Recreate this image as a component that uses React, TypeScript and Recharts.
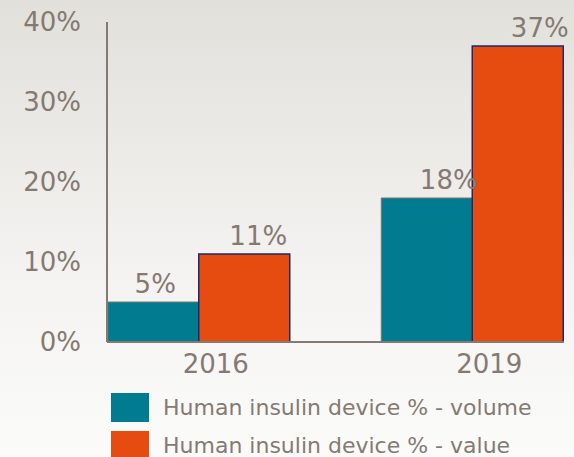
import React from "react";
import { BarChart, Bar, XAxis, YAxis, LabelList, Legend } from "recharts";

const categories = ["2016", "2019"];
const volumeValues = [5, 18];
const valueValues = [11, 37];
const yTicks = [0, 10, 20, 30, 40];
const seriesNames = ["Human insulin device % - volume", "Human insulin device % - value"];

const volumeLabelDx = [2, 22];
const valueLabelDx = [14, 22];

const data = categories.map((c, i) => ({
  year: c,
  volume: volumeValues[i],
  value: valueValues[i],
}));

const TEXT = "#857a72";
const FONT = "'DejaVu Sans', Verdana, sans-serif";
const TEAL = "#007b8f";
const ORANGE = "#e64b10";

const makeLabel = (dxs: number[]) => (props: any) => {
  const { x, y, width, value, index } = props;
  return (
    <text
      x={x + width / 2 + (dxs[index] || 0)}
      y={y - 9}
      textAnchor="middle"
      fill={TEXT}
      fontSize={26}
      fontFamily={FONT}
    >
      {value}%
    </text>
  );
};

const LegendContent = () => (
  <div style={{ fontFamily: FONT, fontSize: 22, color: TEXT }}>
    {[TEAL, ORANGE].map((c, i) => (
      <div key={i} style={{ display: "flex", alignItems: "center", height: 38 }}>
        <div style={{ width: 38, height: 29, background: c, flexShrink: 0 }} />
        <span style={{ marginLeft: 14, whiteSpace: "nowrap" }}>{seriesNames[i]}</span>
      </div>
    ))}
  </div>
);

export default function App() {
  return (
    <div
      style={{
        position: "absolute",
        left: 0,
        top: 0,
        width: 574,
        height: 457,
        overflow: "hidden",
        background: "linear-gradient(to bottom, #e2e0db 0%, #f4f3f1 60%, #fbfbfa 100%)",
      }}
    >
      <BarChart
        width={574}
        height={457}
        data={data}
        margin={{ top: 22, right: 10, left: 0, bottom: 75 }}
        barCategoryGap={45.75}
        barGap={0}
      >
        <YAxis
          width={107}
          domain={[0, 40]}
          ticks={yTicks}
          tickFormatter={(v: number) => `${v}%`}
          axisLine={{ stroke: TEXT, strokeWidth: 2 }}
          tickLine={false}
          tickSize={0}
          tickMargin={26}
          tick={{ fill: TEXT, fontSize: 26, fontFamily: FONT }}
          interval={0}
        />
        <XAxis
          dataKey="year"
          height={40}
          padding={{ left: -45, right: -45 }}
          axisLine={{ stroke: TEXT, strokeWidth: 2 }}
          tickLine={false}
          tickSize={0}
          tickMargin={13}
          tick={{ fill: TEXT, fontSize: 26, fontFamily: FONT, dx: 17 }}
        />
        <Legend
          layout="vertical"
          align="center"
          verticalAlign="middle"
          content={<LegendContent />}
          wrapperStyle={{ position: "absolute", top: 388, left: 111, width: 460 }}
        />
        <Bar dataKey="volume" fill={TEAL} stroke="#7f7670" strokeWidth={1} isAnimationActive={false}>
          <LabelList dataKey="volume" content={makeLabel(volumeLabelDx)} />
        </Bar>
        <Bar dataKey="value" fill={ORANGE} stroke="#1b2a6b" strokeWidth={1.5} isAnimationActive={false}>
          <LabelList dataKey="value" content={makeLabel(valueLabelDx)} />
        </Bar>
      </BarChart>
    </div>
  );
}
